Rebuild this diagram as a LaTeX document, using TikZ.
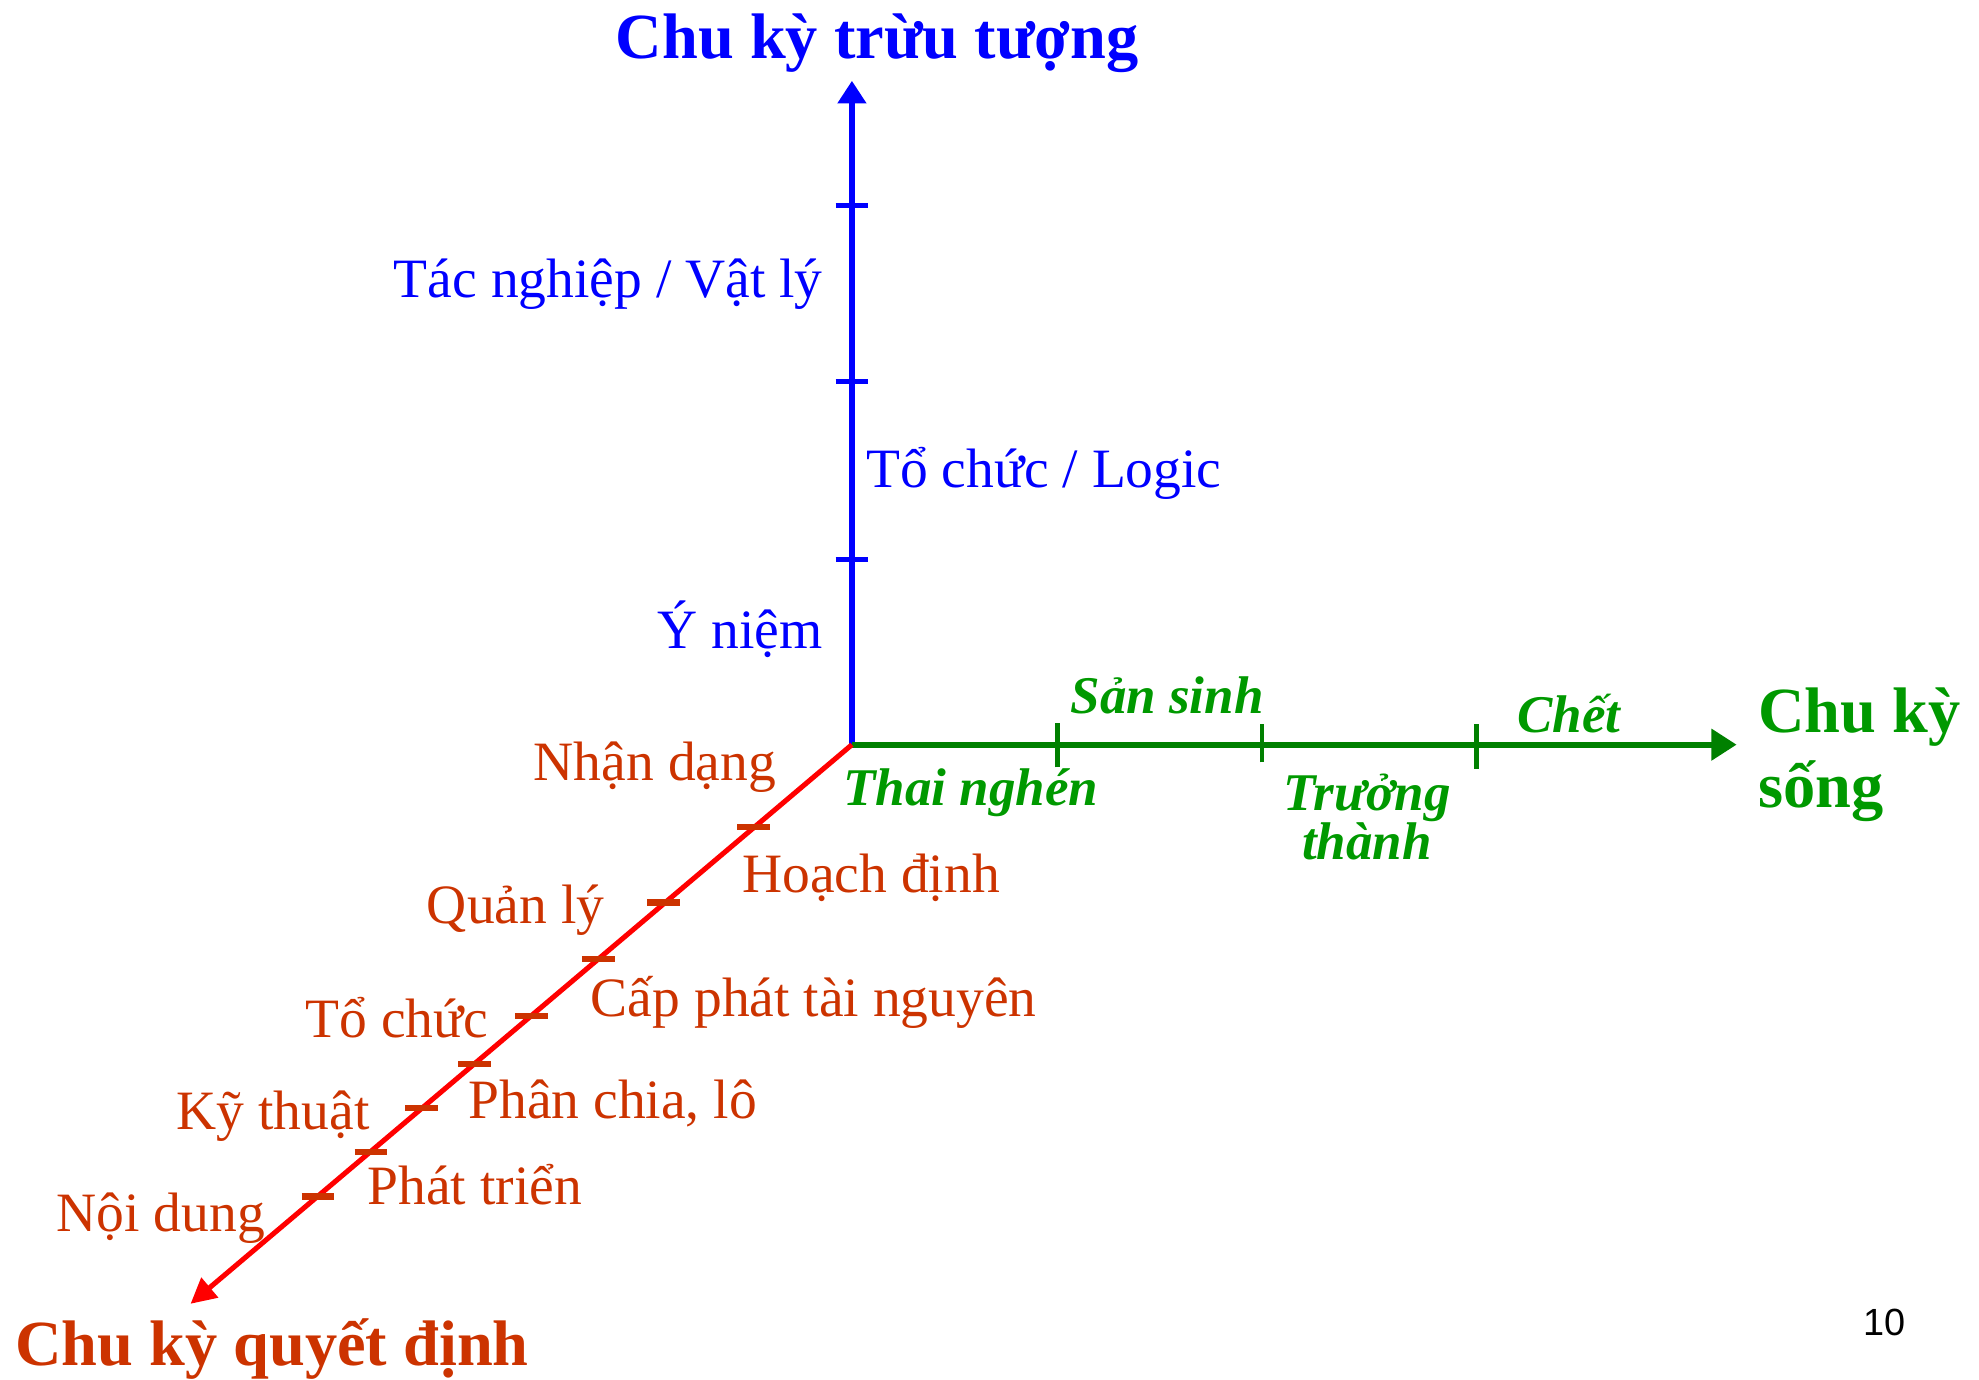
\documentclass[tikz,border=0pt]{standalone}
\usepackage{fontspec}
\setmainfont{Liberation Serif}
\newfontfamily\numfont{Liberation Sans}
\usetikzlibrary{arrows.meta}
\definecolor{axblue}{RGB}{0,0,255}
\definecolor{axgreen}{RGB}{0,128,0}
\definecolor{lblgreen}{RGB}{0,153,0}
\definecolor{axred}{RGB}{255,0,0}
\definecolor{lblred}{RGB}{204,51,0}
\begin{document}
\begin{tikzpicture}[x=1pt,y=-1pt,
  txt/.style={inner sep=0pt,font=\fontsize{44}{44}\selectfont},
  bluelbl/.style={txt,text=axblue},
  redlbl/.style={txt,text=lblred},
  greenlbl/.style={inner sep=0pt,text=lblgreen,align=center,
    font=\fontsize{42}{38}\selectfont\bfseries\itshape},
  axtitle/.style={inner sep=0pt,align=left,font=\fontsize{51}{60}\selectfont\bfseries},
  blueaxis/.style={axblue,line width=4.5pt,-{Triangle[length=18pt,width=22pt]}},
  greenaxis/.style={axgreen,line width=5pt,-{Triangle[length=20pt,width=24pt]}},
  redaxis/.style={axred,line width=4pt,-{Triangle[length=20pt,width=20pt]}},
  bluetick/.style={axblue,line width=4pt},
  greentick/.style={axgreen,line width=3.5pt},
  redtick/.style={lblred,line width=5pt}]
\useasboundingbox (0,0) rectangle (1568,1093);

% origin and axis ends
\coordinate (O) at (675,590);
\coordinate (ztip) at (675,64);
\coordinate (xtip) at (1376,590);
\coordinate (rtip) at (151,1033);

% axes
\draw[blueaxis] (O) -- (ztip);
\draw[greenaxis] (O) -- (xtip);
\draw[redaxis] (O) -- (rtip);

% abstraction ticks
\foreach \yy/\nm in {163/z1,302/z2,443/z3}{
  \coordinate (\nm) at (675,\yy);
  \draw[bluetick] ([xshift=-13pt]\nm) -- ([xshift=13pt]\nm);
}
% life-cycle ticks
\coordinate (g1) at (838,590);
\coordinate (g2) at (1000,590);
\coordinate (g3) at (1170,590);
\draw[greentick] ([yshift=-18pt]g1) -- ([yshift=17pt]g1);
\draw[greentick] ([yshift=-14pt]g2) -- ([yshift=16pt]g2);
\draw[greentick] ([yshift=-19pt]g3) -- ([yshift=16pt]g3);

% decision ticks
\foreach \xx/\yy/\nm in {597/655/r1,526/715/r2,474/760/r3,421/805/r4,376/843/r5,334/878/r6,294/913/r7,252/948/r8}{
  \coordinate (\nm) at (\xx,\yy);
  \draw[redtick] ([xshift=-13pt]\nm) -- ([xshift=13pt]\nm);
}

% axis titles
\node[axtitle,text=axblue,anchor=base] (ttop) at (695,46) {Chu kỳ trừu tượng};
\node[axtitle,text=lblgreen,anchor=base west] (tright) at (1393,640) {Chu kỳ\\sống};
\node[axtitle,text=lblred,anchor=base west] (tbottom) at (12,1082) {Chu kỳ quyết định};

% abstraction levels
\node[bluelbl,anchor=base east] (a1) at (652,236) {Tác nghiệp / Vật lý};
\node[bluelbl,anchor=base west] (a2) at (686,386) {Tổ chức / Logic};
\node[bluelbl,anchor=base east] (a3) at (652,514) {Ý niệm};

% life-cycle phases
\node[greenlbl,anchor=base west] (l1) at (848,565) {Sản sinh};
\node[greenlbl,anchor=base west] (l2) at (1202,580) {Chết};
\node[greenlbl,anchor=base west] (l3) at (668,638) {Thai nghén};
\node[greenlbl,anchor=base] (l4) at (1083,681) {Trưởng\\thành};

% decision steps
\node[redlbl,anchor=base east] (d1) at (615,618) {Nhận dạng};
\node[redlbl,anchor=base west] (d2) at (588,707) {Hoạch định};
\node[redlbl,anchor=base east] (d3) at (479,732) {Quản lý};
\node[redlbl,anchor=base west] (d4) at (468,805) {Cấp phát tài nguyên};
\node[redlbl,anchor=base east] (d5) at (387,822) {Tổ chức};
\node[redlbl,anchor=base west] (d6) at (371,886) {Phân chia, lô};
\node[redlbl,anchor=base east] (d7) at (293,895) {Kỹ thuật};
\node[redlbl,anchor=base west] (d8) at (291,954) {Phát triển};
\node[redlbl,anchor=base east] (d9) at (210,976) {Nội dung};

% page number
\node[inner sep=0pt,anchor=base west,font=\numfont\fontsize{30}{30}\selectfont] (pg) at (1476,1058) {10};
\end{tikzpicture}
\end{document}
